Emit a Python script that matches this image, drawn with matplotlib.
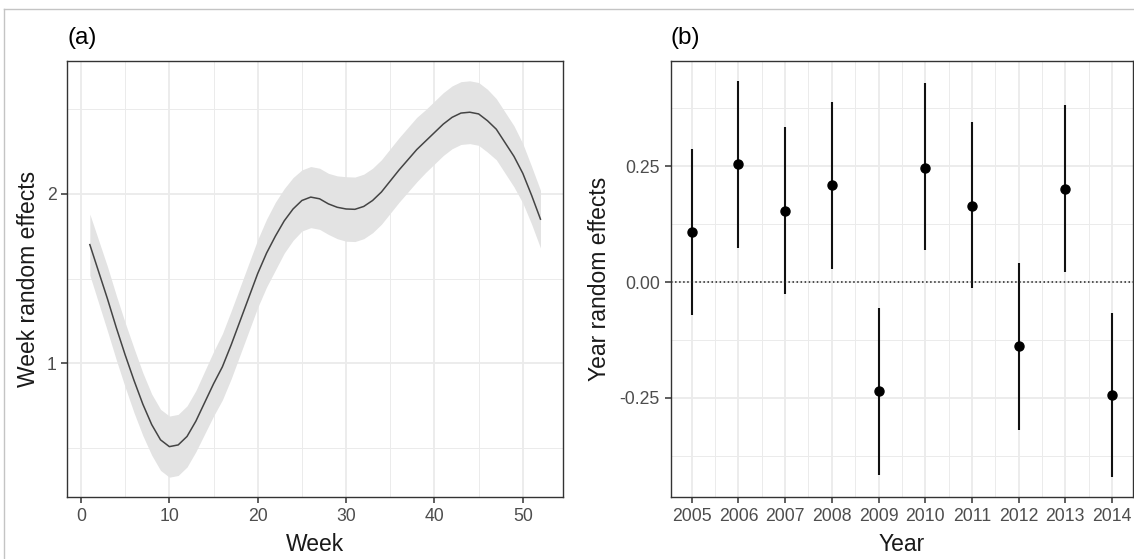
import numpy as np
import matplotlib
matplotlib.use("Agg")
import matplotlib.pyplot as plt
from matplotlib.lines import Line2D

plt.rcParams['font.family'] = ['Liberation Sans', 'DejaVu Sans']

# (a) week smoother: fitted value and half-width of the band, weeks 1..52
weeks = np.arange(1, 53)
week_fit = [1.70, 1.54, 1.38, 1.21, 1.05, 0.90, 0.76, 0.64, 0.55, 0.51,
            0.52, 0.57, 0.66, 0.77, 0.88, 0.98, 1.11, 1.25, 1.39, 1.53,
            1.65, 1.75, 1.84, 1.91, 1.96, 1.98, 1.97, 1.94, 1.92, 1.91,
            1.908, 1.925, 1.96, 2.01, 2.075, 2.14, 2.20, 2.26, 2.31, 2.36,
            2.41, 2.45, 2.475, 2.48, 2.47, 2.43, 2.38, 2.30, 2.22, 2.12,
            1.99, 1.85]
week_se = [0.18, 0.185, 0.19, 0.19, 0.19, 0.19, 0.185, 0.18, 0.18, 0.18,
           0.18, 0.18, 0.18, 0.185, 0.19, 0.195, 0.2, 0.2, 0.2, 0.2,
           0.2, 0.2, 0.19, 0.185, 0.18, 0.18, 0.18, 0.18, 0.185, 0.19,
           0.19, 0.19, 0.19, 0.19, 0.19, 0.19, 0.19, 0.19, 0.185, 0.185,
           0.185, 0.185, 0.185, 0.185, 0.185, 0.185, 0.18, 0.18, 0.18, 0.175,
           0.17, 0.17]

# (b) year random effects with intervals
years = np.arange(2005, 2015)
year_est = [0.108, 0.254, 0.154, 0.209, -0.236, 0.247, 0.165, -0.138, 0.201, -0.243]
year_lo = [-0.071, 0.074, -0.026, 0.029, -0.417, 0.069, -0.012, -0.319, 0.022, -0.421]
year_hi = [0.288, 0.434, 0.334, 0.389, -0.057, 0.429, 0.345, 0.042, 0.382, -0.066]

W, H = 1134, 559
fig = plt.figure(figsize=(W / 100, H / 100), dpi=100)
ax1 = fig.add_axes([67.3 / W, 62 / H, (563 - 67.3) / W, 436 / H])
ax2 = fig.add_axes([670.7 / W, 62 / H, (1133 - 670.7) / W, 436 / H])

# light frame around the figure (top and left edges)
fig.add_artist(Line2D([4.3 / W, 1], [1 - 9.3 / H] * 2, transform=fig.transFigure,
                      color='#c4c4c4', lw=1.0))
fig.add_artist(Line2D([4.3 / W] * 2, [0, 1 - 9.3 / H], transform=fig.transFigure,
                      color='#c4c4c4', lw=1.0))


def style(ax):
    for s in ax.spines.values():
        s.set_color('#333333')
        s.set_linewidth(1.0)
    ax.grid(which='major', color='#ebebeb', lw=1.3)
    ax.grid(which='minor', color='#ebebeb', lw=0.7)
    ax.set_axisbelow(True)
    ax.tick_params(which='major', length=4.3, width=1.1, color='#333333',
                   labelsize=12.7, labelcolor='#4d4d4d', pad=3.5)
    ax.tick_params(which='minor', length=0)
    ax.margins(0.05)


# panel a
lo = np.array(week_fit) - np.array(week_se)
hi = np.array(week_fit) + np.array(week_se)
ax1.fill_between(weeks, lo, hi, color='#e3e3e3', lw=0)
ax1.plot(weeks, week_fit, color='#444444', lw=1.1)
style(ax1)
ax1.set_xticks(np.arange(0, 51, 10))
ax1.set_xticks(np.arange(5, 50, 10), minor=True)
ax1.set_yticks([1, 2])
ax1.set_yticks([0.5, 1.5, 2.5], minor=True)
ax1.set_xlabel('Week', fontsize=16.5, color='#1a1a1a', labelpad=6)
ax1.set_ylabel('Week random effects', fontsize=16.5, color='#1a1a1a', labelpad=5)
ax1.set_title('(a)', loc='left', fontsize=17.5, pad=12.5)

# panel b
ax2.vlines(years, year_lo, year_hi, color='#111111', lw=1.5)
ax2.plot(years, year_est, 'o', ms=6.5, color='black')
ax2.axhline(0, ls=':', color='#222222', lw=1.1)
style(ax2)
ax2.set_xticks(years)
ax2.set_xticks(years[:-1] + 0.5, minor=True)
ax2.set_yticks([-0.25, 0, 0.25])
ax2.set_yticklabels(['-0.25', '0.00', '0.25'])
ax2.set_yticks([-0.375, -0.125, 0.125, 0.375], minor=True)
ax2.set_xlabel('Year', fontsize=16.5, color='#1a1a1a', labelpad=6)
ax2.set_ylabel('Year random effects', fontsize=16.5, color='#1a1a1a', labelpad=6)
ax2.set_title('(b)', loc='left', fontsize=17.5, pad=12.5)

fig.savefig('out.png', dpi=100, facecolor='white')
